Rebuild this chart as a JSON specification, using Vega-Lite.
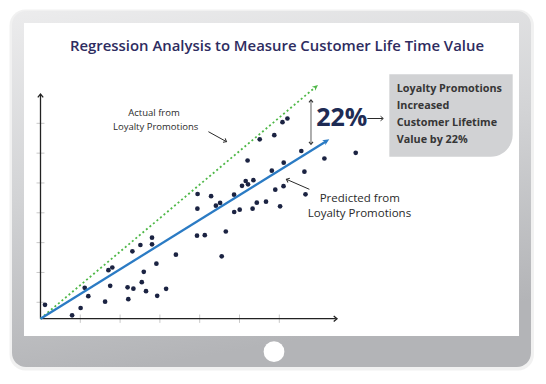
{
  "$schema": "https://vega.github.io/schema/vega-lite/v6.json",
  "width": 546,
  "height": 384,
  "padding": 0,
  "autosize": {"type": "fit", "contains": "padding"},
  "background": "#ffffff",
  "config": {"view": {"stroke": null}},
  "datasets": {
    "boxes": [
      {"name": "shadow", "x": -0.779, "x2": 12.399, "y": 10.366, "y2": -1.737},
      {"name": "bezel", "x": -0.716, "x2": 12.324, "y": 10.315, "y2": -1.619},
      {"name": "screen", "x": -0.415, "x2": 12.023, "y": 9.913, "y2": -0.58},
      {"name": "callout", "x": 8.764, "x2": 11.864, "y": 8.193, "y2": 5.431}
    ],
    "buttons": [
      {"name": "home", "x": 5.867, "y": -1.106}
    ],
    "customers": [
      {"x": 0.113, "y": 0.466}, {"x": 0.794, "y": 0.114}, {"x": 1.008, "y": 0.359},
      {"x": 1.111, "y": 1.036}, {"x": 1.201, "y": 0.754}, {"x": 1.623, "y": 0.57},
      {"x": 1.706, "y": 1.626}, {"x": 1.804, "y": 1.716}, {"x": 1.751, "y": 1.103},
      {"x": 2.188, "y": 1.053}, {"x": 2.334, "y": 1.006}, {"x": 2.206, "y": 0.654},
      {"x": 2.309, "y": 2.259}, {"x": 2.51, "y": 2.471}, {"x": 2.595, "y": 1.572},
      {"x": 2.545, "y": 1.224}, {"x": 2.651, "y": 0.922}, {"x": 2.802, "y": 2.715},
      {"x": 2.802, "y": 2.494}, {"x": 2.912, "y": 1.844}, {"x": 2.932, "y": 0.768},
      {"x": 3.156, "y": 1.002}, {"x": 3.402, "y": 2.146}, {"x": 3.947, "y": 4.18},
      {"x": 3.942, "y": 3.688}, {"x": 3.932, "y": 2.782}, {"x": 4.128, "y": 2.799},
      {"x": 4.286, "y": 4.107}, {"x": 4.407, "y": 3.788}, {"x": 4.513, "y": 3.882},
      {"x": 4.656, "y": 2.923}, {"x": 4.553, "y": 2.092}, {"x": 4.867, "y": 3.577},
      {"x": 5.005, "y": 3.654}, {"x": 4.864, "y": 4.157}, {"x": 5.063, "y": 4.455},
      {"x": 5.156, "y": 4.616}, {"x": 5.214, "y": 4.506}, {"x": 5.349, "y": 4.643},
      {"x": 5.203, "y": 5.303}, {"x": 5.329, "y": 3.688}, {"x": 5.435, "y": 3.889},
      {"x": 5.666, "y": 3.922}, {"x": 5.508, "y": 6.014}, {"x": 5.874, "y": 6.152},
      {"x": 6.08, "y": 6.587}, {"x": 6.204, "y": 6.711}, {"x": 5.812, "y": 4.961},
      {"x": 6.111, "y": 5.23}, {"x": 5.899, "y": 4.324}, {"x": 6.106, "y": 4.442},
      {"x": 6.02, "y": 3.768}, {"x": 6.553, "y": 5.622}, {"x": 6.631, "y": 4.928},
      {"x": 6.658, "y": 4.17}, {"x": 7.133, "y": 5.37}, {"x": 7.92, "y": 5.562}
    ],
    "lines": [
      {"name": "tick", "x": -0.1, "x2": 0.1, "y": 0.55, "y2": 0.55},
      {"name": "tick", "x": -0.1, "x2": 0.1, "y": 1.55, "y2": 1.55},
      {"name": "tick", "x": -0.1, "x2": 0.1, "y": 2.55, "y2": 2.55},
      {"name": "tick", "x": -0.1, "x2": 0.1, "y": 3.55, "y2": 3.55},
      {"name": "tick", "x": -0.1, "x2": 0.1, "y": 4.55, "y2": 4.55},
      {"name": "tick", "x": -0.1, "x2": 0.1, "y": 5.55, "y2": 5.55},
      {"name": "tick", "x": -0.1, "x2": 0.1, "y": 6.55, "y2": 6.55},
      {"name": "tick", "x": 1, "x2": 1, "y": -0.14, "y2": 0.14},
      {"name": "tick", "x": 2, "x2": 2, "y": -0.14, "y2": 0.14},
      {"name": "tick", "x": 3, "x2": 3, "y": -0.14, "y2": 0.14},
      {"name": "tick", "x": 4, "x2": 4, "y": -0.14, "y2": 0.14},
      {"name": "tick", "x": 5, "x2": 5, "y": -0.14, "y2": 0.14},
      {"name": "tick", "x": 6, "x2": 6, "y": -0.14, "y2": 0.14},
      {"name": "axis", "x": 0, "x2": 0, "y": 0, "y2": 7.5},
      {"name": "axis", "x": 0, "x2": 7.42, "y": 0, "y2": 0},
      {"name": "actual", "x": 0, "x2": 6.9, "y": 0, "y2": 7.755},
      {"name": "predicted", "x": 0, "x2": 7.18, "y": 0, "y2": 5.95},
      {"name": "gap", "x": 6.796, "x2": 6.796, "y": 7.3, "y2": 5.88},
      {"name": "pointer", "x": 8.211, "x2": 8.6, "y": 6.711, "y2": 6.711},
      {"name": "pointer", "x": 4.219, "x2": 4.665, "y": 6.269, "y2": 5.94},
      {"name": "pointer", "x": 6.756, "x2": 6.185, "y": 4.338, "y2": 4.67}
    ],
    "heads": [
      {"name": "up", "x": 0, "y": 7.533},
      {"name": "right", "x": 7.45, "y": 0},
      {"name": "actual", "x": 6.972, "y": 7.834},
      {"name": "predicted", "x": 7.256, "y": 6.014},
      {"name": "gapTop", "x": 6.796, "y": 7.332},
      {"name": "gapBottom", "x": 6.796, "y": 5.846},
      {"name": "pointer22", "x": 8.613, "y": 6.711},
      {"name": "pointerActual", "x": 4.673, "y": 5.934},
      {"name": "pointerPredicted", "x": 6.178, "y": 4.673}
    ],
    "labels": [
      {"name": "title", "text": "Regression Analysis to Measure Customer Life Time Value", "x": 5.942, "y": 9.118},
      {"name": "callout", "text": "Loyalty Promotions", "x": 8.95, "y": 7.69},
      {"name": "callout", "text": "Increased", "x": 8.95, "y": 7.13},
      {"name": "callout", "text": "Customer Lifetime", "x": 8.95, "y": 6.55},
      {"name": "callout", "text": "Value by 22%", "x": 8.95, "y": 5.991},
      {"name": "big", "text": "22%", "x": 7.568, "y": 6.718},
      {"name": "actual", "text": "Actual from", "x": 2.852, "y": 6.886},
      {"name": "actual", "text": "Loyalty Promotions", "x": 2.894, "y": 6.436},
      {"name": "predicted", "text": "Predicted from", "x": 8.023, "y": 4.013},
      {"name": "predicted", "text": "Loyalty Promotions", "x": 8.013, "y": 3.52}
    ]
  },
  "encoding": {
    "x": {"field": "x", "type": "quantitative", "scale": {"domain": [-1.0176, 12.701], "nice": false, "zero": false}, "axis": null},
    "y": {"field": "y", "type": "quantitative", "scale": {"domain": [-2.1891, 10.6839], "nice": false, "zero": false}, "axis": null}
  },
  "layer": [
    {
      "data": {"name": "boxes"},
      "transform": [{"filter": "datum.name === 'shadow'"}],
      "mark": {"type": "rect", "color": "#b0b0b0", "opacity": 0.18, "cornerRadius": 16},
      "encoding": {"x2": {"field": "x2"}, "y2": {"field": "y2"}}
    },
    {
      "data": {"name": "boxes"},
      "transform": [{"filter": "datum.name === 'bezel'"}],
      "mark": {"type": "rect", "cornerRadius": 14, "color": {"gradient": "linear", "x1": 0, "y1": 0, "x2": 0.25, "y2": 1, "stops": [{"offset": 0, "color": "#ececed"}, {"offset": 0.5, "color": "#d2d3d5"}, {"offset": 1, "color": "#b3b4b7"}]}},
      "encoding": {"x2": {"field": "x2"}, "y2": {"field": "y2"}}
    },
    {
      "data": {"name": "boxes"},
      "transform": [{"filter": "datum.name === 'screen'"}],
      "mark": {"type": "rect", "color": "#ffffff"},
      "encoding": {"x2": {"field": "x2"}, "y2": {"field": "y2"}}
    },
    {
      "data": {"name": "buttons"},
      "mark": {"type": "point", "shape": "circle", "filled": true, "color": "#ffffff", "opacity": 1, "size": 430},
      "encoding": {}
    },
    {
      "data": {"name": "labels"},
      "transform": [{"filter": "datum.name === 'title'"}],
      "mark": {"type": "text", "font": "Open Sans", "fontSize": 14.9, "fontWeight": 600, "color": "#2e2c60", "align": "center", "baseline": "middle"},
      "encoding": {"text": {"field": "text"}}
    },
    {
      "data": {"name": "lines"},
      "transform": [{"filter": "datum.name === 'tick'"}],
      "mark": {"type": "rule", "color": "#c9c9c9", "strokeWidth": 1},
      "encoding": {"x2": {"field": "x2"}, "y2": {"field": "y2"}}
    },
    {
      "data": {"name": "lines"},
      "transform": [{"filter": "datum.name === 'axis'"}],
      "mark": {"type": "rule", "color": "#222222", "strokeWidth": 1.3},
      "encoding": {"x2": {"field": "x2"}, "y2": {"field": "y2"}}
    },
    {
      "data": {"name": "heads"},
      "transform": [{"filter": "datum.name === 'up'"}],
      "mark": {"type": "point", "shape": "M-0.9,1.1L0,0L0.9,1.1", "filled": false, "color": "#222222", "strokeWidth": 1.3, "opacity": 1, "size": 36, "angle": 0},
      "encoding": {}
    },
    {
      "data": {"name": "heads"},
      "transform": [{"filter": "datum.name === 'right'"}],
      "mark": {"type": "point", "shape": "M-0.9,1.1L0,0L0.9,1.1", "filled": false, "color": "#222222", "strokeWidth": 1.3, "opacity": 1, "size": 36, "angle": 90},
      "encoding": {}
    },
    {
      "data": {"name": "lines"},
      "transform": [{"filter": "datum.name === 'actual'"}],
      "mark": {"type": "rule", "color": "#4fb848", "strokeWidth": 1.8, "strokeDash": [2, 2.6]},
      "encoding": {"x2": {"field": "x2"}, "y2": {"field": "y2"}}
    },
    {
      "data": {"name": "heads"},
      "transform": [{"filter": "datum.name === 'actual'"}],
      "mark": {"type": "point", "shape": "M0,0L0.9,2L0,1.4L-0.9,2Z", "filled": true, "color": "#4fb848", "opacity": 1, "size": 34, "angle": 49.87},
      "encoding": {}
    },
    {
      "data": {"name": "customers"},
      "mark": {"type": "circle", "color": "#1b2342", "opacity": 1, "size": 22},
      "encoding": {}
    },
    {
      "data": {"name": "lines"},
      "transform": [{"filter": "datum.name === 'predicted'"}],
      "mark": {"type": "rule", "color": "#2b7bc4", "strokeWidth": 2.3},
      "encoding": {"x2": {"field": "x2"}, "y2": {"field": "y2"}}
    },
    {
      "data": {"name": "heads"},
      "transform": [{"filter": "datum.name === 'predicted'"}],
      "mark": {"type": "point", "shape": "M0,0L0.9,2L0,1.4L-0.9,2Z", "filled": true, "color": "#2b7bc4", "opacity": 1, "size": 44, "angle": 58.15},
      "encoding": {}
    },
    {
      "data": {"name": "boxes"},
      "transform": [{"filter": "datum.name === 'callout'"}],
      "mark": {"type": "rect", "color": "#d1d2d4", "cornerRadiusBottomRight": 22},
      "encoding": {"x2": {"field": "x2"}, "y2": {"field": "y2"}}
    },
    {
      "data": {"name": "labels"},
      "transform": [{"filter": "datum.name === 'callout'"}],
      "mark": {"type": "text", "font": "Open Sans", "fontSize": 10.8, "fontWeight": "bold", "color": "#363636", "align": "left", "baseline": "middle"},
      "encoding": {"text": {"field": "text"}}
    },
    {
      "data": {"name": "labels"},
      "transform": [{"filter": "datum.name === 'big'"}],
      "mark": {"type": "text", "font": "Open Sans", "fontSize": 25, "fontWeight": "bold", "color": "#1e2b54", "align": "center", "baseline": "middle"},
      "encoding": {"text": {"field": "text"}}
    },
    {
      "data": {"name": "lines"},
      "transform": [{"filter": "datum.name === 'gap'"}],
      "mark": {"type": "rule", "color": "#9a9a9a", "strokeWidth": 1.6},
      "encoding": {"x2": {"field": "x2"}, "y2": {"field": "y2"}}
    },
    {
      "data": {"name": "heads"},
      "transform": [{"filter": "datum.name === 'gapTop'"}],
      "mark": {"type": "point", "shape": "M-0.9,1.1L0,0L0.9,1.1", "filled": false, "color": "#333333", "strokeWidth": 1.1, "opacity": 1, "size": 20, "angle": 0},
      "encoding": {}
    },
    {
      "data": {"name": "heads"},
      "transform": [{"filter": "datum.name === 'gapBottom'"}],
      "mark": {"type": "point", "shape": "M-0.9,1.1L0,0L0.9,1.1", "filled": false, "color": "#333333", "strokeWidth": 1.1, "opacity": 1, "size": 20, "angle": 180},
      "encoding": {}
    },
    {
      "data": {"name": "lines"},
      "transform": [{"filter": "datum.name === 'pointer'"}],
      "mark": {"type": "rule", "color": "#2a2a2a", "strokeWidth": 1},
      "encoding": {"x2": {"field": "x2"}, "y2": {"field": "y2"}}
    },
    {
      "data": {"name": "heads"},
      "transform": [{"filter": "datum.name === 'pointer22'"}],
      "mark": {"type": "point", "shape": "M-0.9,1.1L0,0L0.9,1.1", "filled": false, "color": "#2a2a2a", "strokeWidth": 1, "opacity": 1, "size": 25, "angle": 90},
      "encoding": {}
    },
    {
      "data": {"name": "heads"},
      "transform": [{"filter": "datum.name === 'pointerActual'"}],
      "mark": {"type": "point", "shape": "M-0.9,1.1L0,0L0.9,1.1", "filled": false, "color": "#2a2a2a", "strokeWidth": 1, "opacity": 1, "size": 25, "angle": 118.9},
      "encoding": {}
    },
    {
      "data": {"name": "heads"},
      "transform": [{"filter": "datum.name === 'pointerPredicted'"}],
      "mark": {"type": "point", "shape": "M-0.9,1.1L0,0L0.9,1.1", "filled": false, "color": "#2a2a2a", "strokeWidth": 1, "opacity": 1, "size": 25, "angle": -66.5},
      "encoding": {}
    },
    {
      "data": {"name": "labels"},
      "transform": [{"filter": "datum.name === 'actual'"}],
      "mark": {"type": "text", "font": "Open Sans", "fontSize": 9.5, "color": "#2a2a2a", "align": "center", "baseline": "middle"},
      "encoding": {"text": {"field": "text"}}
    },
    {
      "data": {"name": "labels"},
      "transform": [{"filter": "datum.name === 'predicted'"}],
      "mark": {"type": "text", "font": "Open Sans", "fontSize": 11.5, "color": "#2a2a2a", "align": "center", "baseline": "middle"},
      "encoding": {"text": {"field": "text"}}
    }
  ]
}
